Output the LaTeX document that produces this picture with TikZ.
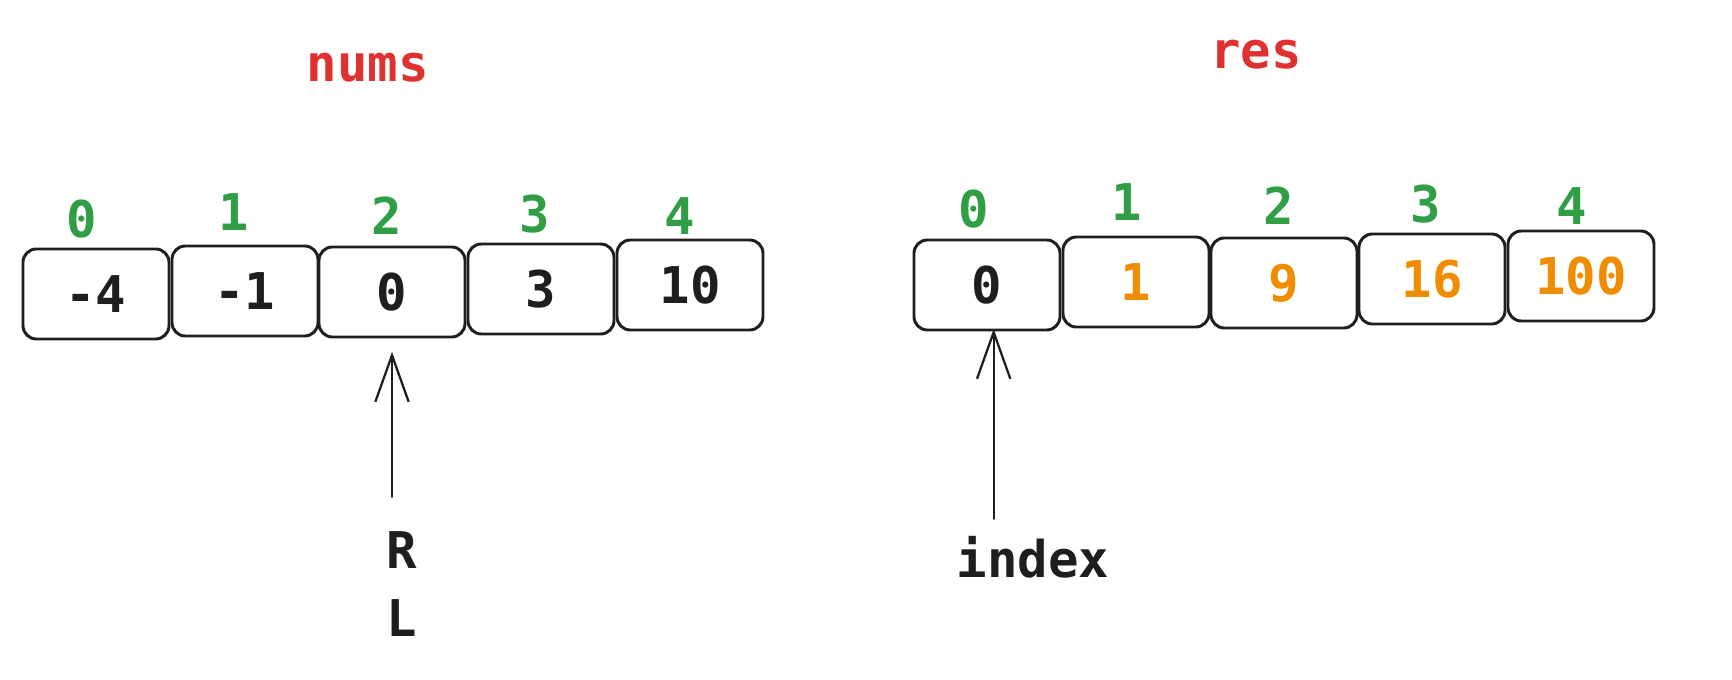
\documentclass[tikz,border=0pt]{standalone}
\usepackage{fontspec}
\setmonofont{DejaVu Sans Mono}
\usetikzlibrary{arrows.meta}

\definecolor{idxgreen}{HTML}{2F9E44}
\definecolor{titlered}{HTML}{E03131}
\definecolor{valorange}{HTML}{F08C00}
\definecolor{inkblack}{HTML}{1E1E1E}

\tikzset{
  cell/.style={draw=inkblack, line width=2.2pt, rounded corners=10pt,
    minimum width=109.5pt, minimum height=67.5pt, inner sep=0pt,
    font=\ttfamily\bfseries\fontsize{38}{40}\selectfont},
  idx/.style={text=idxgreen, inner sep=0.75pt, font=\ttfamily\bfseries\fontsize{38}{40}\selectfont},
  title/.style={text=titlered, inner sep=0.75pt, font=\ttfamily\bfseries\fontsize{38}{40}\selectfont},
  ptr/.style={text=inkblack, inner sep=0.75pt, font=\ttfamily\bfseries\fontsize{38}{40}\selectfont},
  pointer/.style={draw=inkblack, line width=1.7pt, line cap=round,
    -{Straight Barb[length=35pt, width=25pt, line width=1.7pt]}},
}

\begin{document}
\begin{tikzpicture}[x=0.75pt,y=0.75pt,yscale=-1,xscale=1]

  \useasboundingbox (0,0) rectangle (1732,680);

  % Titles
  \node[title] (numsT) at (368,68) {nums};
  \node[title] (resT) at (1256,55) {res};

  % nums array
  \foreach \i/\x/\y/\v in {0/96/294/-4, 1/245/291/-1, 2/392/292/0, 3/541/289/3, 4/690/285/10}
    \node[cell, text=inkblack] (n\i) at (\x,\y) {\v};
  \foreach \i/\x/\y in {0/82/219, 1/234/212, 2/387/216, 3/535/214, 4/680/216}
    \node[idx] (ni\i) at (\x,\y) {\i};

  % res array
  \foreach \i/\x/\y/\v/\c in {0/987/285/0/inkblack, 1/1136/282/1/valorange, 2/1284/283/9/valorange, 3/1432/279/16/valorange, 4/1581/276/100/valorange}
    \node[cell, text=\c] (r\i) at (\x,\y) {\v};
  \foreach \i/\x/\y in {0/974/209, 1/1127/202, 2/1279/206, 3/1426/204, 4/1572/206}
    \node[idx] (ri\i) at (\x,\y) {\i};

  % Pointers
  \node[ptr] (ptrR) at (402,550) {R};
  \node[ptr] (ptrL) at (402,618) {L};
  \node[ptr] (ptrI) at (1033,557) {index};

  \draw[pointer, shorten <=25pt, shorten >=10pt] (ptrR.north -| n2.south) -- (n2.south);
  \draw[pointer, shorten <=12pt, shorten >=-2pt] ([xshift=5pt]ptrI.north -| r0.south) -- ([xshift=5pt]r0.south);

\end{tikzpicture}
\end{document}
